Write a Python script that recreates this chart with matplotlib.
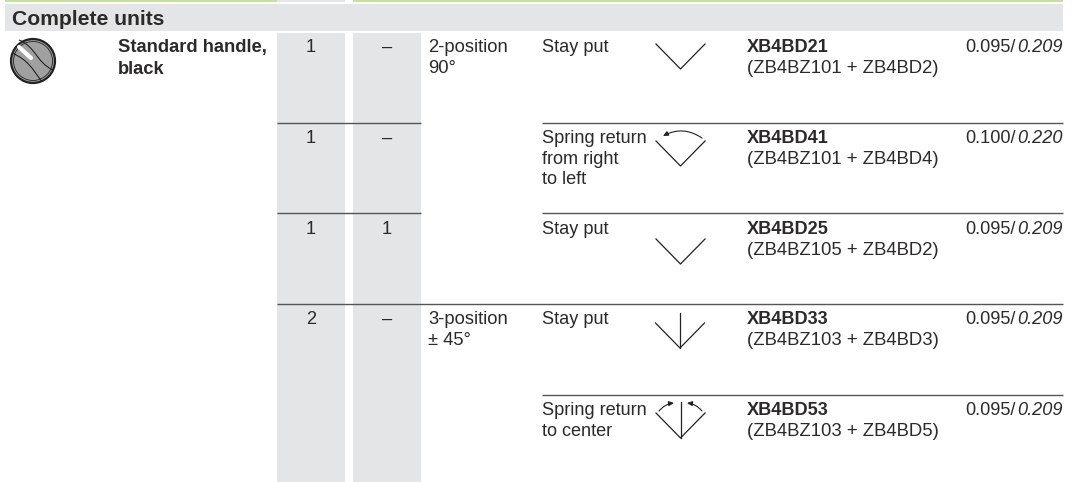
import matplotlib
matplotlib.use('Agg')
from matplotlib import pyplot as plt
from matplotlib.patches import Rectangle, Circle, FancyArrowPatch, PathPatch
from matplotlib.path import Path

W, H = 1073, 482
GREY = '#e4e5e6'
GREEN = '#c5e0a0'
INK = '#2b2a29'

# table contents, one list per column
row_baselines = [52, 143, 234, 324, 415]
contacts_no = ['1', '1', '1', '2', '']
contacts_nc = ['–', '–', '1', '–', '']
positions = [['2-position', '90°'], [], [], ['3-position', '± 45°'], []]
functions = [['Stay put'],
             ['Spring return', 'from right', 'to left'],
             ['Stay put'],
             ['Stay put'],
             ['Spring return', 'to center']]
references = ['XB4BD21', 'XB4BD41', 'XB4BD25', 'XB4BD33', 'XB4BD53']
parts = ['(ZB4BZ101 + ZB4BD2)', '(ZB4BZ101 + ZB4BD4)', '(ZB4BZ105 + ZB4BD2)',
         '(ZB4BZ103 + ZB4BD3)', '(ZB4BZ103 + ZB4BD5)']
weights_kg = ['0.095', '0.100', '0.095', '0.095', '0.095']
weights_lb = ['0.209', '0.220', '0.209', '0.209', '0.209']

plt.rcParams['font.family'] = ['Liberation Sans', 'DejaVu Sans']
FS = 13.1

fig = plt.figure(figsize=(W/100, H/100), dpi=100)
ax = fig.add_axes([0, 0, 1, 1])
ax.set_xlim(0, W)
ax.set_ylim(H, 0)
ax.axis('off')

def label(x, y, s, **kw):
    kw.setdefault('color', INK)
    kw.setdefault('fontsize', FS)
    return ax.text(x, y, s, va='baseline', **kw)

def rect(x0, y0, x1, y1, c):
    ax.add_patch(Rectangle((x0, y0), x1-x0, y1-y0, fc=c, ec='none'))

def rule(x0, x1, y):
    ax.plot([x0, x1], [y, y], color='#555555', lw=1.0, solid_capstyle='butt')

def vee(x, y, top=None):
    ax.plot([x-24.5, x, x+24.5], [y, y+25, y], color='#222222', lw=0.9)
    if top is not None:
        ax.plot([x, x], [top, y+25], color='#222222', lw=0.9)

def curl(x0, y0, x1, y1, rad):
    ax.add_patch(FancyArrowPatch((x0, y0), (x1, y1), connectionstyle=f'arc3,rad={rad}',
                                 arrowstyle='-|>,head_length=3,head_width=1.4',
                                 color='#222222', lw=0.8, shrinkA=0, shrinkB=0))

def wave(pts):
    codes = [Path.MOVETO, Path.CURVE4, Path.CURVE4, Path.CURVE4]
    ax.add_patch(PathPatch(Path(pts, codes), fc='none', ec='#222222', lw=0.8))

# header strips
rect(5, 0, 277, 2, GREEN)
rect(277, 0, 345, 2, GREY)
rect(353, 0, 1063, 2, GREEN)
rect(5, 4, 1063, 31, GREY)
rect(277, 33, 345, H, GREY)
rect(353, 33, 421, H, GREY)

label(12, 25, 'Complete units', fontweight='bold', fontsize=15.2)
label(118, 52, 'Standard handle,', fontweight='bold', fontsize=13.25)
label(118, 74, 'black', fontweight='bold', fontsize=13.25)

# handle icon
ax.add_patch(Circle((33, 61), 22, fc='#a0a0a0', ec='#222222', lw=1.6))
ax.add_patch(Circle((33, 61), 19.5, fc='none', ec='#222222', lw=0.6))
ax.plot([19, 31], [47, 58], color='white', lw=3, solid_capstyle='round')
wave([(19, 40), (36, 47), (36, 62), (53, 70)])
wave([(12, 53), (28, 60), (32, 68), (42, 82)])

renderer = fig.canvas.get_renderer()
for i, y0 in enumerate(row_baselines):
    label(311, y0, contacts_no[i], ha='center')
    label(387, y0, contacts_nc[i], ha='center')
    for j, s in enumerate(positions[i]):
        label(428, y0 + j*21, s, fontsize=13.25)
    for j, s in enumerate(functions[i]):
        label(542, y0 + j*20.7, s)
    label(747, y0, references[i], fontweight='bold')
    label(747, y0 + 21, parts[i], fontsize=13.3)
    t = label(965, y0, weights_kg[i] + '/')
    box = t.get_window_extent(renderer)
    label(box.x1 + 1.5, y0, weights_lb[i], style='italic')

# row rules
rule(277, 421, 122.5)
rule(542, 1063, 122.5)
rule(277, 421, 213)
rule(542, 1063, 213)
rule(277, 1063, 304)
rule(542, 1063, 395)

# switch symbols
vee(680.5, 44)
vee(680.5, 141)
curl(702, 138, 663, 136, 0.3)
vee(680.5, 239)
vee(680, 323, top=313)
vee(680.5, 413, top=402)
curl(659, 411, 674, 403, -0.2)
curl(702, 411, 687, 403, 0.2)

fig.savefig('out.png', dpi=100)
